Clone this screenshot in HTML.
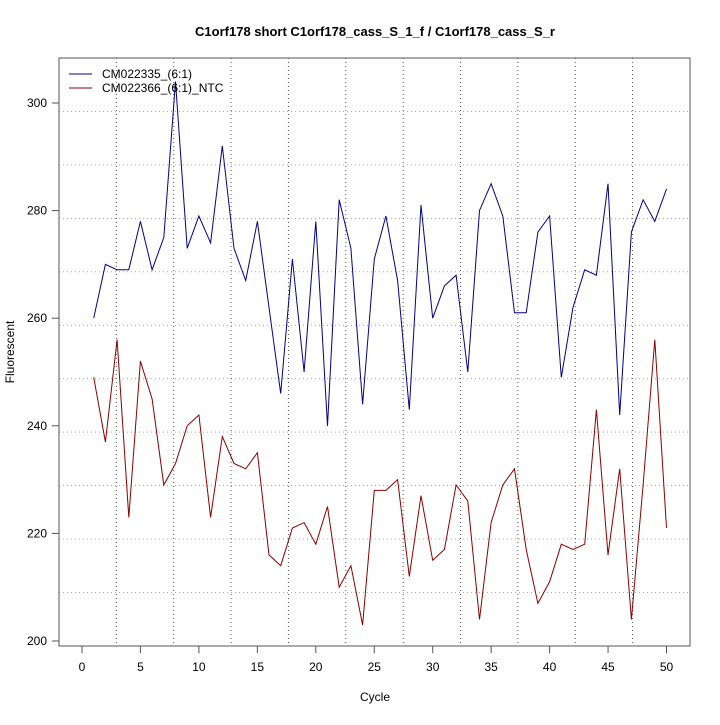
<!DOCTYPE html>
<html><head><meta charset="utf-8"><style>
body{margin:0;background:#fff;width:720px;height:720px;overflow:hidden}
text{font-family:"Liberation Sans",sans-serif;font-size:12px;fill:#000}
</style></head><body>
<svg id="s" width="720" height="720" xmlns="http://www.w3.org/2000/svg">
<rect width="720" height="720" fill="#fff"/>
<g id="grid" stroke="#aaa" stroke-dasharray="1,3" stroke-width="1"></g>
<g id="vgrid" stroke="#555" stroke-dasharray="1,3" stroke-width="1"></g>
<polyline id="blue" fill="none" stroke="#00008b" stroke-width="1"/>
<polyline id="red" fill="none" stroke="#8b0000" stroke-width="1"/>
<rect x="59" y="58" width="631" height="588" fill="none" stroke="#555" stroke-width="1"/>
<g id="ticks" stroke="#555"></g>
<text x="375" y="36" text-anchor="middle" style="font-weight:bold;font-size:13px">C1orf178 short C1orf178_cass_S_1_f / C1orf178_cass_S_r</text>
<text x="375" y="701" text-anchor="middle">Cycle</text>
<text x="0" y="0" transform="translate(14,352) rotate(-90)" text-anchor="middle">Fluorescent</text>
<line x1="69" y1="74" x2="92" y2="74" stroke="#00008b"/>
<line x1="69" y1="88" x2="92" y2="88" stroke="#8b0000"/>
<text x="102" y="78">CM022335_(6:1)</text>
<text x="102" y="92">CM022366_(6:1)_NTC</text>
<g id="labels"></g>
</svg>
<script>
var ns="http://www.w3.org/2000/svg";
function el(p,t,a,txt){var e=document.createElementNS(ns,t);for(var k in a)e.setAttribute(k,a[k]);if(txt)e.textContent=txt;document.getElementById(p).appendChild(e);}
for(var k=1;k<11;k++){var y=58+53.45*k;el("grid","line",{x1:59,x2:690,y1:y,y2:y});var x=59+57.36*k;el("vgrid","line",{x1:x,x2:x,y1:58,y2:646});}
function X(c){return 82+c*11.69}function Y(v){return 641-(v-200)*5.38}
for(var c=0;c<=50;c+=5){el("ticks","line",{x1:X(c),x2:X(c),y1:646,y2:653});el("labels","text",{x:X(c),y:671,"text-anchor":"middle"},""+c);}
for(var v=200;v<=300;v+=20){el("ticks","line",{x1:52,x2:59,y1:Y(v),y2:Y(v)});el("labels","text",{x:47,y:Y(v)+4,"text-anchor":"end"},""+v);}
var b=[260,270,269,269,278,269,275,304,273,279,274,292,273,267,278,262,246,271,250,278,240,282,273,244,271,279,267,243,281,260,266,268,250,280,285,279,261,261,276,279,249,262,269,268,285,242,276,282,278,284];
var r=[249,237,256,223,252,245,229,233,240,242,223,238,233,232,235,216,214,221,222,218,225,210,214,203,228,228,230,212,227,215,217,229,226,204,222,229,232,217,207,211,218,217,218,243,216,232,204,229,256,221];
function pts(a){return a.map(function(v,i){return X(i+1).toFixed(1)+","+Y(v).toFixed(1)}).join(" ")}
document.getElementById("blue").setAttribute("points",pts(b));
document.getElementById("red").setAttribute("points",pts(r));
</script>
</body></html>
